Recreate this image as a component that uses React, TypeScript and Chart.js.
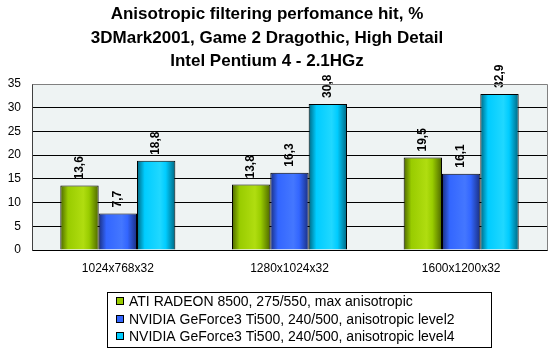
import React, { useEffect, useRef } from "react";
import { Chart, registerables } from "chart.js";

Chart.register(...registerables);

const titleLines = [
  "Anisotropic filtering perfomance hit, %",
  "3DMark2001, Game 2 Dragothic, High Detail",
  "Intel Pentium 4 - 2.1HGz",
];
const categories = ["1024x768x32", "1280x1024x32", "1600x1200x32"];
const seriesNames = [
  "ATI RADEON 8500, 275/550, max anisotropic",
  "NVIDIA GeForce3 Ti500, 240/500, anisotropic level2",
  "NVIDIA GeForce3 Ti500, 240/500, anisotropic level4",
];
const radeonValues = [13.6, 13.8, 19.5];
const level2Values = [7.7, 16.3, 16.1];
const level4Values = [18.8, 30.8, 32.9];
const yMin = 0;
const yMax = 35;
const yStep = 5;

const baseColors = ["#99CC00", "#3366FF", "#00CCFF"];
const darkColors = ["#4d6600", "#1a2f80", "#006680"];
const lightColors = ["#b0dd10", "#4477ff", "#20d8ff"];

const FONT = "Arial, 'Liberation Sans', sans-serif";
const CAT_PCT = 0.67;

function gradientFor(ctx: any, i: number) {
  const chart = ctx.chart;
  const xs = chart.scales && chart.scales.x;
  if (!chart.chartArea || !xs || !xs.width) return baseColors[i];
  const n = categories.length;
  const catW = xs.width / n;
  const center = xs.getPixelForValue(ctx.dataIndex);
  const groupW = catW * CAT_PCT;
  const slot = groupW / 3;
  const left = center - groupW / 2 + ctx.datasetIndex * slot;
  const right = left + slot;
  const g = chart.ctx.createLinearGradient(left, 0, right, 0);
  g.addColorStop(0, darkColors[i]);
  g.addColorStop(0.2, baseColors[i]);
  g.addColorStop(0.6, lightColors[i]);
  g.addColorStop(0.75, baseColors[i]);
  g.addColorStop(1, darkColors[i]);
  return g;
}

const plotBgPlugin = {
  id: "plotBg",
  beforeDraw(chart: any) {
    const { ctx, chartArea } = chart;
    ctx.save();
    ctx.fillStyle = "#ffffff";
    ctx.fillRect(0, 0, chart.width, chart.height);
    ctx.fillStyle = "#EEF3F3";
    ctx.fillRect(chartArea.left, chartArea.top, chartArea.right - chartArea.left, chartArea.bottom - chartArea.top);
    ctx.restore();
  },
  afterDraw(chart: any) {
    const { ctx, chartArea } = chart;
    ctx.save();
    ctx.strokeStyle = "#808080";
    ctx.lineWidth = 1;
    ctx.beginPath();
    ctx.moveTo(Math.round(chartArea.left) + 0.5, Math.round(chartArea.top) + 0.5);
    ctx.lineTo(Math.round(chartArea.right) + 0.5, Math.round(chartArea.top) + 0.5);
    ctx.lineTo(Math.round(chartArea.right) + 0.5, Math.round(chartArea.bottom) + 0.5);
    ctx.stroke();
    // title
    ctx.fillStyle = "#000000";
    ctx.font = "bold 17px " + FONT;
    ctx.textAlign = "center";
    ctx.textBaseline = "alphabetic";
    const baselines = [19, 42.5, 66];
    titleLines.forEach((line, i) => ctx.fillText(line, 267, baselines[i]));
    ctx.restore();
  },
};

const valueLabelPlugin = {
  id: "valueLabels",
  afterDatasetsDraw(chart: any) {
    const { ctx } = chart;
    ctx.save();
    ctx.font = "bold 12px " + FONT;
    ctx.fillStyle = "#000000";
    ctx.textAlign = "left";
    ctx.textBaseline = "middle";
    chart.data.datasets.forEach((ds: any, di: number) => {
      const meta = chart.getDatasetMeta(di);
      meta.data.forEach((el: any, i: number) => {
        const v = ds.data[i];
        const txt = v.toFixed(1).replace(".", ",");
        ctx.save();
        ctx.translate(el.x, el.y - 6);
        ctx.rotate(-Math.PI / 2);
        ctx.fillText(txt, 0, 0);
        ctx.restore();
      });
    });
    ctx.restore();
  },
};

const legendPlugin = {
  id: "boxLegend",
  afterDraw(chart: any) {
    const { ctx } = chart;
    ctx.save();
    ctx.fillStyle = "#ffffff";
    ctx.fillRect(107.5, 292.5, 384, 55);
    ctx.strokeStyle = "#000000";
    ctx.lineWidth = 1;
    ctx.strokeRect(107.5, 292.5, 384, 55);
    ctx.font = "14px " + FONT;
    ctx.textAlign = "left";
    ctx.textBaseline = "middle";
    const rows = [302, 320, 337];
    chart.data.datasets.forEach((ds: any, i: number) => {
      const y = rows[i];
      ctx.fillStyle = baseColors[i];
      ctx.fillRect(117, y - 4, 7, 7);
      ctx.strokeStyle = "#000000";
      ctx.strokeRect(116.5, y - 4.5, 7, 7);
      ctx.fillStyle = "#000000";
      ctx.fillText(ds.label, 129, y);
    });
    ctx.restore();
  },
};

export default function App() {
  const canvasRef = useRef<HTMLCanvasElement | null>(null);

  useEffect(() => {
    if (!canvasRef.current) return;
    const seriesValues = [radeonValues, level2Values, level4Values];
    const chart = new Chart(canvasRef.current, {
      type: "bar",
      data: {
        labels: categories,
        datasets: seriesValues.map((vals, i) => ({
          label: seriesNames[i],
          data: vals,
          backgroundColor: (ctx: any) => gradientFor(ctx, i),
          borderColor: "#000000",
          borderWidth: 1,
          categoryPercentage: CAT_PCT,
          barPercentage: 1.0,
        })),
      },
      options: {
        responsive: false,
        animation: false,
        events: [],
        layout: { padding: { left: 0, right: 13, top: 84, bottom: 0 } },
        plugins: {
          legend: { display: false },
          tooltip: { enabled: false },
          title: { display: false },
        },
        scales: {
          x: {
            grid: { display: false, drawTicks: false },
            border: { display: true, color: "#000000" },
            ticks: { color: "#000000", font: { family: FONT, size: 12 }, padding: 11, maxRotation: 0 },
            afterFit: (axis: any) => {
              axis.height = 103;
            },
          },
          y: {
            min: yMin,
            max: yMax,
            grid: { color: "#000000", drawTicks: false },
            border: { display: true, color: "#404040" },
            ticks: { stepSize: yStep, color: "#000000", font: { family: FONT, size: 12 }, padding: 11 },
            afterFit: (axis: any) => {
              axis.width = 32;
            },
          },
        },
      },
      plugins: [plotBgPlugin, valueLabelPlugin, legendPlugin],
    });
    return () => chart.destroy();
  }, []);

  return (
    <div style={{ position: "absolute", left: 0, top: 0, width: 560, height: 353 }}>
      <canvas ref={canvasRef} width={560} height={353} style={{ display: "block" }} />
    </div>
  );
}
